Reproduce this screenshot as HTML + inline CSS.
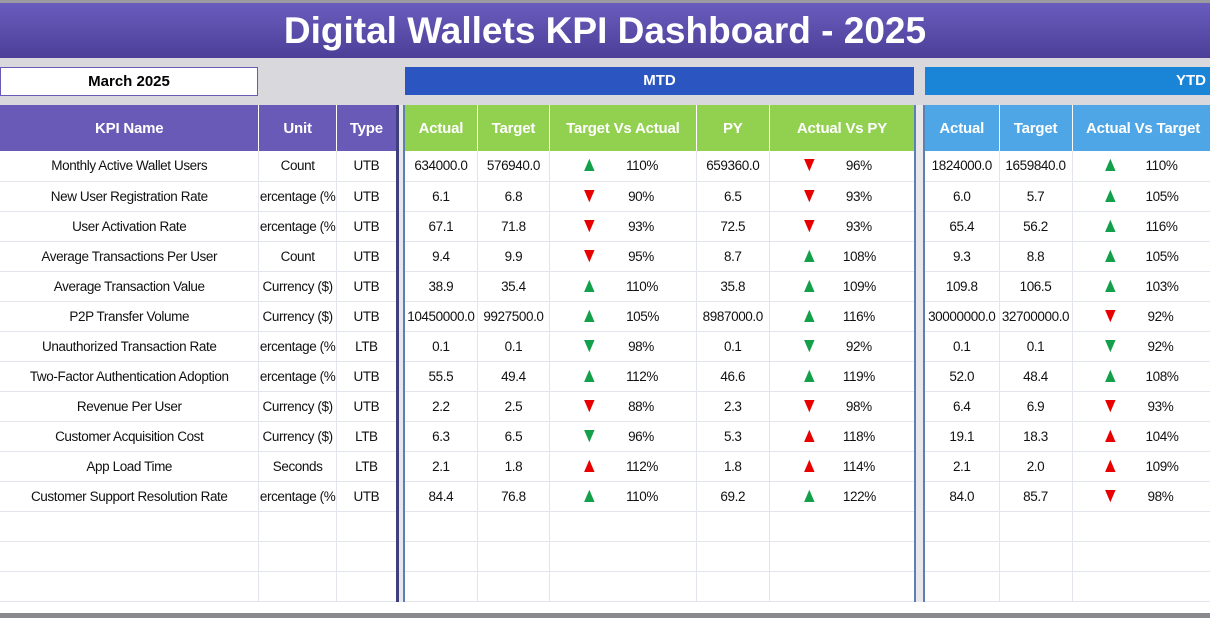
<!DOCTYPE html>
<html><head><meta charset="utf-8"><style>
*{margin:0;padding:0;box-sizing:border-box}
body{width:1210px;height:618px;overflow:hidden;background:#fff;font-family:"Liberation Sans",sans-serif;position:relative}
.title{position:absolute;left:0;top:0;width:1210px;height:58px;background:linear-gradient(#6a5cbd,#4c3f98);border-top:3px solid #9a9aa0;color:#fff;font-weight:bold;font-size:37px;text-align:center;line-height:55px}
.band{position:absolute;left:0;top:58px;width:1210px;height:47px;background:#d9d9dd}
.date{position:absolute;left:0;top:67px;width:258px;height:29px;background:#fff;border:1px solid #6a5ab8;font-weight:bold;font-size:15px;text-align:center;line-height:27px}
.mtd{position:absolute;left:405px;top:67px;width:509px;height:28px;background:#2b56c1;color:#fff;font-weight:bold;font-size:15px;text-align:center;line-height:28px}
.ytd{position:absolute;left:925px;top:67px;width:285px;height:28px;background:#1a84d7;color:#fff;font-weight:bold;font-size:15px;text-align:right;padding-right:4px;line-height:28px}
table{position:absolute;top:105px;border-collapse:collapse;table-layout:fixed;font-size:13.5px;letter-spacing:-0.4px}
td,th{height:30px;text-align:center;white-space:nowrap;overflow:hidden;border-right:1px solid #e2e6ec;border-bottom:1px solid #e2e6ec;color:#111;font-weight:normal}
th{height:46px;color:#fff;font-weight:bold;font-size:15px;border-right:1px solid #fff;border-bottom:none;letter-spacing:-0.2px}
.l th{background:#6a5ab8}
.m th{background:#92d050}
.y th{background:#4ea6e6}
.l{left:0;border-right:3px solid #3f3f7e}
.m{left:403px;border-left:2px solid #5c80b0;border-right:2px solid #5c80b0}
.y{left:923px;border-left:2px solid #5c80b0}
.gap{position:absolute;top:105px;height:497px;background:#e8e8ec}
.a{position:relative}
.a i{position:absolute;font-style:normal;top:3px;font-size:21px;line-height:22px;transform:scaleX(0.85)}
.a b{position:absolute;font-weight:normal;top:7px}
.g{color:#14a04a}.r{color:#e80000}
.bot{position:absolute;left:0;top:613px;width:1210px;height:5px;background:#8a8a8e}
</style></head><body>
<div class="title">Digital Wallets KPI Dashboard - 2025</div>
<div class="band"></div>
<div class="date">March 2025</div>
<div class="mtd">MTD</div>
<div class="ytd">YTD</div>
<div class="gap" style="left:399px;width:4px"></div>
<div class="gap" style="left:916px;width:7px"></div>
<table class="l" style="width:399px"><colgroup><col style="width:258px"><col style="width:77px"><col style="width:61px"></colgroup>
<tr><th>KPI Name</th><th>Unit</th><th>Type</th></tr>
<tr><td>Monthly Active Wallet Users</td><td>Count</td><td>UTB</td></tr>
<tr><td>New User Registration Rate</td><td>ercentage (%</td><td>UTB</td></tr>
<tr><td>User Activation Rate</td><td>ercentage (%</td><td>UTB</td></tr>
<tr><td>Average Transactions Per User</td><td>Count</td><td>UTB</td></tr>
<tr><td>Average Transaction Value</td><td>Currency ($)</td><td>UTB</td></tr>
<tr><td>P2P Transfer Volume</td><td>Currency ($)</td><td>UTB</td></tr>
<tr><td>Unauthorized Transaction Rate</td><td>ercentage (%</td><td>LTB</td></tr>
<tr><td>Two-Factor Authentication Adoption</td><td>ercentage (%</td><td>UTB</td></tr>
<tr><td>Revenue Per User</td><td>Currency ($)</td><td>UTB</td></tr>
<tr><td>Customer Acquisition Cost</td><td>Currency ($)</td><td>LTB</td></tr>
<tr><td>App Load Time</td><td>Seconds</td><td>LTB</td></tr>
<tr><td>Customer Support Resolution Rate</td><td>ercentage (%</td><td>UTB</td></tr>
<tr><td></td><td></td><td></td></tr><tr><td></td><td></td><td></td></tr><tr><td></td><td></td><td></td></tr>
</table>
<table class="m" style="width:513px"><colgroup><col style="width:73px"><col style="width:72px"><col style="width:146px"><col style="width:73px"><col style="width:145px"></colgroup>
<tr><th>Actual</th><th>Target</th><th>Target Vs Actual</th><th>PY</th><th>Actual Vs PY</th></tr>
<tr><td>634000.0</td><td>576940.0</td><td class="a"><i class="g" style="left:29px">▲</i><b style="left:76px">110%</b></td><td>659360.0</td><td class="a"><i class="r" style="left:29px">▼</i><b style="left:76px">96%</b></td></tr>
<tr><td>6.1</td><td>6.8</td><td class="a"><i class="r" style="left:29px">▼</i><b style="left:78px">90%</b></td><td>6.5</td><td class="a"><i class="r" style="left:29px">▼</i><b style="left:76px">93%</b></td></tr>
<tr><td>67.1</td><td>71.8</td><td class="a"><i class="r" style="left:29px">▼</i><b style="left:78px">93%</b></td><td>72.5</td><td class="a"><i class="r" style="left:29px">▼</i><b style="left:76px">93%</b></td></tr>
<tr><td>9.4</td><td>9.9</td><td class="a"><i class="r" style="left:29px">▼</i><b style="left:78px">95%</b></td><td>8.7</td><td class="a"><i class="g" style="left:29px">▲</i><b style="left:73px">108%</b></td></tr>
<tr><td>38.9</td><td>35.4</td><td class="a"><i class="g" style="left:29px">▲</i><b style="left:76px">110%</b></td><td>35.8</td><td class="a"><i class="g" style="left:29px">▲</i><b style="left:73px">109%</b></td></tr>
<tr><td>10450000.0</td><td>9927500.0</td><td class="a"><i class="g" style="left:29px">▲</i><b style="left:76px">105%</b></td><td>8987000.0</td><td class="a"><i class="g" style="left:29px">▲</i><b style="left:73px">116%</b></td></tr>
<tr><td>0.1</td><td>0.1</td><td class="a"><i class="g" style="left:29px">▼</i><b style="left:78px">98%</b></td><td>0.1</td><td class="a"><i class="g" style="left:29px">▼</i><b style="left:76px">92%</b></td></tr>
<tr><td>55.5</td><td>49.4</td><td class="a"><i class="g" style="left:29px">▲</i><b style="left:76px">112%</b></td><td>46.6</td><td class="a"><i class="g" style="left:29px">▲</i><b style="left:73px">119%</b></td></tr>
<tr><td>2.2</td><td>2.5</td><td class="a"><i class="r" style="left:29px">▼</i><b style="left:78px">88%</b></td><td>2.3</td><td class="a"><i class="r" style="left:29px">▼</i><b style="left:76px">98%</b></td></tr>
<tr><td>6.3</td><td>6.5</td><td class="a"><i class="g" style="left:29px">▼</i><b style="left:78px">96%</b></td><td>5.3</td><td class="a"><i class="r" style="left:29px">▲</i><b style="left:73px">118%</b></td></tr>
<tr><td>2.1</td><td>1.8</td><td class="a"><i class="r" style="left:29px">▲</i><b style="left:76px">112%</b></td><td>1.8</td><td class="a"><i class="r" style="left:29px">▲</i><b style="left:73px">114%</b></td></tr>
<tr><td>84.4</td><td>76.8</td><td class="a"><i class="g" style="left:29px">▲</i><b style="left:76px">110%</b></td><td>69.2</td><td class="a"><i class="g" style="left:29px">▲</i><b style="left:73px">122%</b></td></tr>
<tr><td></td><td></td><td></td><td></td><td></td></tr><tr><td></td><td></td><td></td><td></td><td></td></tr><tr><td></td><td></td><td></td><td></td><td></td></tr>
</table>
<table class="y" style="width:290px"><colgroup><col style="width:75px"><col style="width:73px"><col style="width:142px"></colgroup>
<tr><th>Actual</th><th>Target</th><th>Actual Vs Target</th></tr>
<tr><td>1824000.0</td><td>1659840.0</td><td class="a"><i class="g" style="left:27px">▲</i><b style="left:73px">110%</b></td></tr>
<tr><td>6.0</td><td>5.7</td><td class="a"><i class="g" style="left:27px">▲</i><b style="left:73px">105%</b></td></tr>
<tr><td>65.4</td><td>56.2</td><td class="a"><i class="g" style="left:27px">▲</i><b style="left:73px">116%</b></td></tr>
<tr><td>9.3</td><td>8.8</td><td class="a"><i class="g" style="left:27px">▲</i><b style="left:73px">105%</b></td></tr>
<tr><td>109.8</td><td>106.5</td><td class="a"><i class="g" style="left:27px">▲</i><b style="left:73px">103%</b></td></tr>
<tr><td>30000000.0</td><td>32700000.0</td><td class="a"><i class="r" style="left:27px">▼</i><b style="left:75px">92%</b></td></tr>
<tr><td>0.1</td><td>0.1</td><td class="a"><i class="g" style="left:27px">▼</i><b style="left:75px">92%</b></td></tr>
<tr><td>52.0</td><td>48.4</td><td class="a"><i class="g" style="left:27px">▲</i><b style="left:73px">108%</b></td></tr>
<tr><td>6.4</td><td>6.9</td><td class="a"><i class="r" style="left:27px">▼</i><b style="left:75px">93%</b></td></tr>
<tr><td>19.1</td><td>18.3</td><td class="a"><i class="r" style="left:27px">▲</i><b style="left:73px">104%</b></td></tr>
<tr><td>2.1</td><td>2.0</td><td class="a"><i class="r" style="left:27px">▲</i><b style="left:73px">109%</b></td></tr>
<tr><td>84.0</td><td>85.7</td><td class="a"><i class="r" style="left:27px">▼</i><b style="left:75px">98%</b></td></tr>
<tr><td></td><td></td><td></td></tr><tr><td></td><td></td><td></td></tr><tr><td></td><td></td><td></td></tr>
</table>
<div class="bot"></div>
</body></html>
